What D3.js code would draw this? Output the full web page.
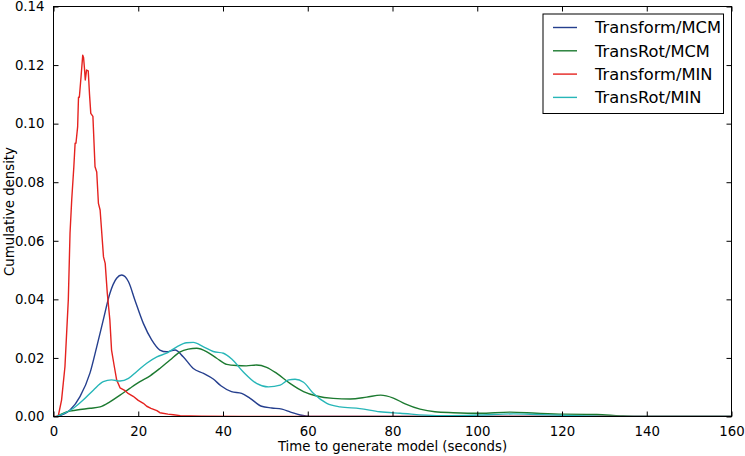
<!DOCTYPE html>
<html><head><meta charset="utf-8">
<script src="https://cdn.jsdelivr.net/npm/d3@7"></script>
<style>body{margin:0;background:#fff}svg{display:block}text{font-family:"DejaVu Sans",sans-serif;fill:#000}</style>
</head><body><svg id="c" width="745" height="456"></svg>
<script>
const seriesNames = ["Transform/MCM","TransRot/MCM","Transform/MIN","TransRot/MIN"];
const seriesColors = ["#253f8e","#1c7a30","#e5221f","#27b6b8"];
const xTicks = [0,20,40,60,80,100,120,140,160];
const yTicks = [0,0.02,0.04,0.06,0.08,0.10,0.12,0.14];

const transformMCM = [[0.75,0],[3.9,0.0022],[6.25,0.0068],[8.6,0.0148],[10.2,0.0238],[11.75,0.033],[13.3,0.042],[14.9,0.0472],[16.1,0.0483],[17.7,0.046],[19.2,0.0398],[21.2,0.0318],[23.2,0.0261],[25.1,0.0227],[26.7,0.0221],[28.7,0.0227],[30.6,0.0204],[33,0.0164],[35.4,0.0147],[37.7,0.0128],[39.5,0.0105],[42,0.0085],[44.4,0.0079],[46.4,0.0062],[49.1,0.0035],[51.5,0.0029],[53.9,0.0025],[55.8,0.0016],[58.2,0.0005],[60.6,0],[160,0]];
const transRotMCM = [[0.75,0],[3.1,0.0016],[5.5,0.0022],[8.6,0.0028],[11,0.0033],[13.3,0.005],[15.7,0.0073],[18,0.0096],[20.4,0.0119],[22.8,0.0139],[25.1,0.0164],[27.5,0.0193],[29.9,0.0221],[31.8,0.023],[33.8,0.0233],[36.2,0.0221],[38.5,0.0199],[40.9,0.0178],[43.2,0.0174],[45.5,0.0173],[47.9,0.0176],[50.3,0.0168],[52.7,0.0147],[55.8,0.0113],[59,0.0085],[62.1,0.007],[66,0.0062],[70,0.006],[73.9,0.0066],[77.2,0.0073],[80.2,0.0063],[83,0.0043],[86.5,0.0025],[90,0.0016],[94.3,0.0013],[100.6,0.0011],[107.7,0.0015],[114,0.0011],[120.3,0.0008],[128.2,0.0007],[133.7,0.0002],[137.6,0],[160,0]];
const transformMIN = [[0,0],[1.1,0],[1.9,0.0056],[2.7,0.017],[3.5,0.040],[3.9,0.0626],[4.3,0.074],[4.8,0.0853],[5.1,0.0933],[5.3,0.0933],[5.7,0.099],[5.9,0.109],[6.1,0.109],[6.5,0.116],[6.9,0.1234],[7.1,0.1225],[7.3,0.119],[7.5,0.1149],[7.8,0.1183],[8.2,0.118],[8.5,0.110],[8.8,0.1035],[9.3,0.1025],[9.8,0.0853],[10.2,0.0835],[10.6,0.0728],[11.0,0.0705],[11.8,0.0545],[12.2,0.0523],[12.7,0.042],[13.3,0.033],[13.7,0.0227],[14.3,0.0175],[14.9,0.0125],[15.7,0.0098],[16.9,0.0088],[17.5,0.008],[18.8,0.0069],[20,0.0055],[21.2,0.0045],[22,0.0035],[23,0.0028],[24.4,0.002],[25.1,0.0013],[27,0.0008],[28.3,0.0006],[29.9,0.0003],[32.2,0.0002],[35,0.0001],[45,0],[160,0]];
const transRotMIN = [[0.75,0],[4.7,0.0028],[7,0.0056],[9.4,0.009],[11.75,0.0119],[13.7,0.0125],[15.7,0.0121],[17.7,0.013],[19.6,0.0153],[22,0.0182],[24.4,0.0204],[26.7,0.0216],[29.1,0.0238],[31.4,0.0252],[33,0.0253],[35.4,0.0238],[37.7,0.0222],[40.1,0.0216],[42,0.0197],[44.8,0.0152],[47.9,0.0113],[50.7,0.0101],[53.5,0.0107],[55.5,0.0125],[57,0.0127],[59,0.0117],[61.3,0.0079],[64.5,0.0045],[67.6,0.0033],[72.3,0.0027],[77,0.0016],[81.8,0.0011],[90.4,0.0003],[97.5,0.0004],[100.6,0.0005],[108.5,0.0009],[114,0.0007],[120.3,0.0004],[128.2,0.0001],[131,0],[160,0]];
const seriesData = [transformMCM, transRotMCM, transformMIN, transRotMIN];

const svg = d3.select("#c");
const L = 53.5, R = 731.5, T = 6.5, B = 416.5;
const x = d3.scaleLinear().domain([0,160]).range([L,R]);
const y = d3.scaleLinear().domain([0,0.14]).range([B,T]);

const plot = svg.append("g");
svg.append("clipPath").attr("id","clp").append("rect").attr("x",L).attr("y",T).attr("width",R-L).attr("height",B-T);
seriesData.forEach((d,i)=>{
  const curve = i===2 ? d3.curveLinear : d3.curveMonotoneX;
  plot.append("path").datum(d).attr("clip-path","url(#clp)")
    .attr("fill","none").attr("stroke",seriesColors[i]).attr("stroke-width",1.4)
    .attr("stroke-linejoin","round")
    .attr("d", d3.line().x(p=>x(p[0])).y(p=>y(p[1])).curve(curve));
});

svg.append("rect").attr("x",L).attr("y",T).attr("width",R-L).attr("height",B-T)
  .attr("fill","none").attr("stroke","#000").attr("stroke-width",1);

const fmt = d3.format(".2f");
const ax = svg.append("g").attr("transform",`translate(0,${B})`)
  .call(d3.axisBottom(x).tickValues(xTicks).tickSizeInner(-5).tickSizeOuter(0).tickPadding(10).tickFormat(d3.format("d")));
const axT = svg.append("g").attr("transform",`translate(0,${T})`)
  .call(d3.axisTop(x).tickValues(xTicks).tickSizeInner(-5).tickSizeOuter(0).tickFormat(""));
const ay = svg.append("g").attr("transform",`translate(${L},0)`)
  .call(d3.axisLeft(y).tickValues(yTicks).tickSizeInner(-5).tickSizeOuter(0).tickPadding(9).tickFormat(fmt));
const ayR = svg.append("g").attr("transform",`translate(${R},0)`)
  .call(d3.axisRight(y).tickValues(yTicks).tickSizeInner(-5).tickSizeOuter(0).tickFormat(""));
[ax,axT,ay,ayR].forEach(g=>{g.select(".domain").remove(); g.selectAll("line").attr("stroke","#000");
  g.selectAll("text").attr("font-family","DejaVu Sans").attr("font-size",13.3).attr("fill","#000");});

svg.append("text").attr("x",(L+R)/2).attr("y",451).attr("text-anchor","middle").attr("font-size",13.3).text("Time to generate model (seconds)");
svg.append("text").attr("transform",`translate(14,${(T+B)/2}) rotate(-90)`).attr("text-anchor","middle").attr("font-size",13.3).text("Cumulative density");

const lg = svg.append("g");
lg.append("rect").attr("x",543).attr("y",14).attr("width",180.5).attr("height",99.5).attr("fill","#fff").attr("stroke","#000").attr("stroke-width",1);
seriesNames.forEach((n,i)=>{
  const yy = 27.5 + i*23.3;
  lg.append("line").attr("x1",553).attr("x2",577).attr("y1",yy).attr("y2",yy).attr("stroke",seriesColors[i]).attr("stroke-width",1.4);
  lg.append("text").attr("x",595).attr("y",yy+5.7).attr("font-size",16.3).text(n);
});
</script></body></html>
